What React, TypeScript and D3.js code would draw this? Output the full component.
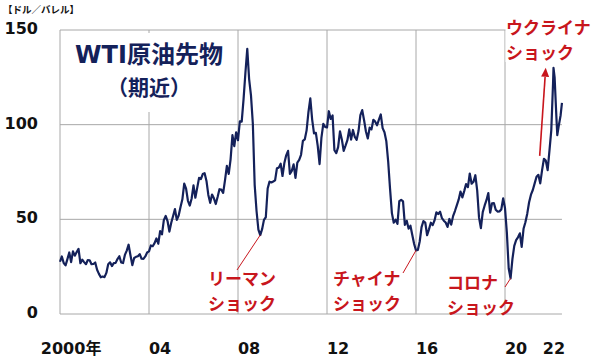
import React from "react";
import * as d3 from "d3";

// ---- Data (month-end WTI front-month, USD/bbl) ----
const START_YEAR = 2000;
const monthlyClose: number[][] = [
  [27.6, 30.4, 26.9, 25.7, 29.0, 32.5, 27.4, 33.1, 30.8, 32.7, 34.4, 26.8], // 2000
  [28.7, 27.4, 26.3, 28.5, 28.4, 26.3, 26.4, 27.2, 23.4, 21.2, 19.4, 19.8], // 2001
  [19.5, 21.7, 26.3, 27.3, 25.3, 26.9, 27.0, 29.0, 30.5, 27.2, 26.9, 31.2], // 2002
  [33.5, 36.6, 31.0, 25.8, 29.6, 30.2, 30.5, 31.6, 29.2, 29.1, 30.4, 32.5], // 2003
  [33.1, 36.2, 35.8, 37.4, 39.9, 37.1, 43.8, 42.1, 49.6, 51.8, 49.1, 43.5], // 2004
  [48.2, 51.8, 55.4, 49.7, 52.0, 56.5, 60.6, 68.9, 66.2, 59.8, 57.3, 61.0], // 2005
  [67.9, 61.4, 66.6, 71.9, 71.3, 73.9, 74.4, 70.3, 62.9, 58.7, 63.1, 61.1], // 2006
  [58.1, 61.8, 65.9, 65.7, 64.0, 70.7, 78.2, 74.0, 81.7, 94.5, 88.7, 96.0], // 2007
  [91.8, 101.8, 101.6, 113.5, 127.4, 140.0, 124.1, 115.5, 100.6, 68.1, 54.4, 44.6], // 2008
  [41.7, 44.8, 49.7, 51.1, 66.3, 69.9, 69.5, 70.0, 70.6, 77.0, 77.3, 79.4], // 2009
  [72.9, 79.7, 83.8, 86.2, 74.0, 75.6, 79.0, 71.9, 80.0, 81.4, 84.1, 91.4], // 2010
  [92.2, 97.0, 106.7, 113.9, 102.7, 95.4, 95.7, 88.8, 79.2, 93.2, 100.4, 98.8], // 2011
  [98.5, 107.1, 103.0, 104.9, 86.5, 85.0, 88.1, 96.5, 92.2, 86.2, 88.9, 91.8], // 2012
  [97.5, 92.1, 97.2, 93.5, 92.0, 96.6, 105.0, 107.7, 102.3, 96.4, 92.7, 98.4], // 2013
  [97.5, 102.6, 101.6, 99.7, 102.7, 105.4, 98.2, 96.0, 91.2, 80.5, 66.2, 53.3], // 2014
  [48.2, 49.8, 47.6, 59.6, 60.3, 59.5, 47.1, 49.2, 45.1, 46.6, 41.7, 37.0], // 2015
  [33.6, 33.8, 38.3, 45.9, 49.1, 48.3, 41.6, 44.7, 48.2, 46.9, 49.4, 53.7], // 2016
  [52.8, 54.0, 50.6, 49.3, 48.3, 46.0, 50.2, 47.2, 51.7, 54.4, 57.4, 60.4], // 2017
  [64.7, 61.6, 64.9, 68.6, 67.0, 74.2, 68.8, 69.8, 73.3, 65.3, 50.9, 45.4], // 2018
  [53.8, 57.2, 60.1, 63.9, 53.5, 58.5, 58.6, 55.1, 54.1, 54.2, 55.2, 61.1], // 2019
  [56.0, 43.0, 24.0, 18.8, 29.0, 36.0, 39.0, 40.5, 42.6, 35.5, 45.0, 48.5], // 2020
  [53.0, 59.0, 63.0, 65.5, 69.0, 72.5, 73.5, 69.0, 76.0, 82.0, 81.0, 76.0], // 2021
];
const recentDates = [2022.0, 2022.08, 2022.16, 2022.18, 2022.23, 2022.31, 2022.35, 2022.41, 2022.5, 2022.56];
const recentPrices = [86.6, 97.0, 122.0, 130.0, 125.0, 104.0, 94.5, 99.0, 105.0, 111.5];

const yTicks = [0, 50, 100, 150];
const xTicks = [2000, 2004, 2008, 2012, 2016, 2020, 2022];
const xTickLabels = ["2000年", "04", "08", "12", "16", "20", "22"];
const xGridYears = [2004, 2008, 2012, 2016, 2020];

const unitLabel = "【ドル／バレル】";
const titleLines = ["WTI原油先物", "（期近）"];

const shockNames = [
  ["リーマン", "ショック"],
  ["チャイナ", "ショック"],
  ["コロナ", "ショック"],
];
const shockDates = [2009.0, 2016.0, 2020.25];
const shockValues = [41.7, 33.6, 18.8];
const ukraineName = ["ウクライナ", "ショック"];
const ukraineArrowFrom = [2021.56, 83.5];
const ukraineArrowTo = [2021.83, 130];

type P = { t: number; v: number };

const points: P[] = [
  ...monthlyClose.flatMap((row, yi) => row.map((v, m) => ({ t: START_YEAR + yi + m / 12, v }))),
  ...recentDates.map((t, i) => ({ t, v: recentPrices[i] })),
];

const NAVY = "#14215a";
const RED = "#c8161d";
const GRID = "#a8a8a8";
const FONT = "'DejaVu Sans', 'Noto Sans CJK JP', sans-serif";
const JFONT = "'Noto Sans CJK JP', sans-serif";

export default function App() {
  const W = 600, H = 357;
  const x = d3.scaleLinear().domain([2000, 2022]).range([60, 549.5]);
  const y = d3.scaleLinear().domain([0, 150]).range([314, 30]);
  const xEnd = x(d3.max(points, (d) => d.t) as number);
  const line = d3.line<P>().x((d) => x(d.t)).y((d) => y(d.v));

  // label layout (px)
  const shockLayout = [
    { lx: 208, ly: 285, from: [237, 270] },
    { lx: 333, ly: 285, from: [403, 273] },
    { lx: 447, ly: 289, from: [505, 287] },
  ];
  const FS = 17, LH = 24.7;

  const ax = x(ukraineArrowFrom[0]), ay = y(ukraineArrowFrom[1]);
  const bx = x(ukraineArrowTo[0]), by = y(ukraineArrowTo[1]);
  const ang = Math.atan2(by - ay, bx - ax);
  const hl = 9, hw = 4;
  const hx = bx - hl * Math.cos(ang), hy = by - hl * Math.sin(ang);
  const head = [
    [bx, by],
    [hx + hw * Math.sin(ang), hy - hw * Math.cos(ang)],
    [hx - hw * Math.sin(ang), hy + hw * Math.cos(ang)],
  ];

  const twoLine = (lx: number, ly: number, lines: string[]) => (
    <text x={lx} y={ly} fontFamily={JFONT} fontWeight="bold" fontSize={FS} fill={RED}>
      <tspan x={lx} y={ly}>{lines[0]}</tspan>
      <tspan x={lx} y={ly + LH}>{lines[1]}</tspan>
    </text>
  );

  return (
    <svg width={W} height={H} style={{ position: "absolute", left: 0, top: 0, background: "#fff" }}>
      <rect x={0} y={0} width={W} height={H} fill="#fff" />
      {/* grid */}
      {yTicks.map((t) => (
        <line key={"h" + t} x1={x(2000)} x2={xEnd} y1={y(t)} y2={y(t)} stroke={GRID} strokeWidth={1} />
      ))}
      <line x1={x(2000)} x2={x(2000)} y1={y(150)} y2={y(0)} stroke={GRID} strokeWidth={1} />
      {xGridYears.map((t) => (
        <line key={"v" + t} x1={x(t)} x2={x(t)} y1={y(150)} y2={y(0)} stroke={GRID} strokeWidth={1} />
      ))}

      {/* title box */}
      <rect x={62} y={33} width={170} height={79} fill="#fff" />
      <text x={149} y={63} textAnchor="middle" fontFamily={FONT} fontWeight="bold" fontSize={24} fill={NAVY}>
        {titleLines[0]}
      </text>
      <text x={149} y={95} textAnchor="middle" fontFamily={JFONT} fontWeight="bold" fontSize={21} fill={NAVY}>
        {titleLines[1]}
      </text>

      {/* data line */}
      <path d={line(points) || ""} fill="none" stroke={NAVY} strokeWidth={2.2} strokeLinejoin="round" />

      {/* y labels */}
      {yTicks.map((t) => (
        <text key={"yl" + t} x={38} y={y(t) + 4} textAnchor="end" fontFamily={FONT} fontWeight="bold" fontSize={16} fill="#111">
          {t}
        </text>
      ))}
      <text x={3} y={13} fontFamily={JFONT} fontWeight="bold" fontSize={9.5} fill="#111">
        {unitLabel}
      </text>

      {/* x labels */}
      {xTicks.map((t, i) => (
        <text key={"xl" + t} x={Math.min(x(t + 0.5), xEnd - 8)} y={354} textAnchor="middle" fontFamily={FONT} fontWeight="bold" fontSize={16} fill="#111">
          {xTickLabels[i]}
        </text>
      ))}

      {/* shock annotations */}
      {shockNames.map((nm, i) => {
        const L = shockLayout[i];
        return (
          <g key={"s" + i}>
            <line x1={L.from[0]} y1={L.from[1]} x2={x(shockDates[i])} y2={y(shockValues[i])} stroke={RED} strokeWidth={1} />
            {twoLine(L.lx, L.ly, nm)}
          </g>
        );
      })}

      {/* ukraine */}
      <rect x={505.5} y={5} width={94} height={57} fill="#fff" />
      {twoLine(506, 34, ukraineName)}
      <line x1={ax} y1={ay} x2={hx} y2={hy} stroke={RED} strokeWidth={1.6} />
      <polygon points={head.map((p) => p.join(",")).join(" ")} fill={RED} />
    </svg>
  );
}
